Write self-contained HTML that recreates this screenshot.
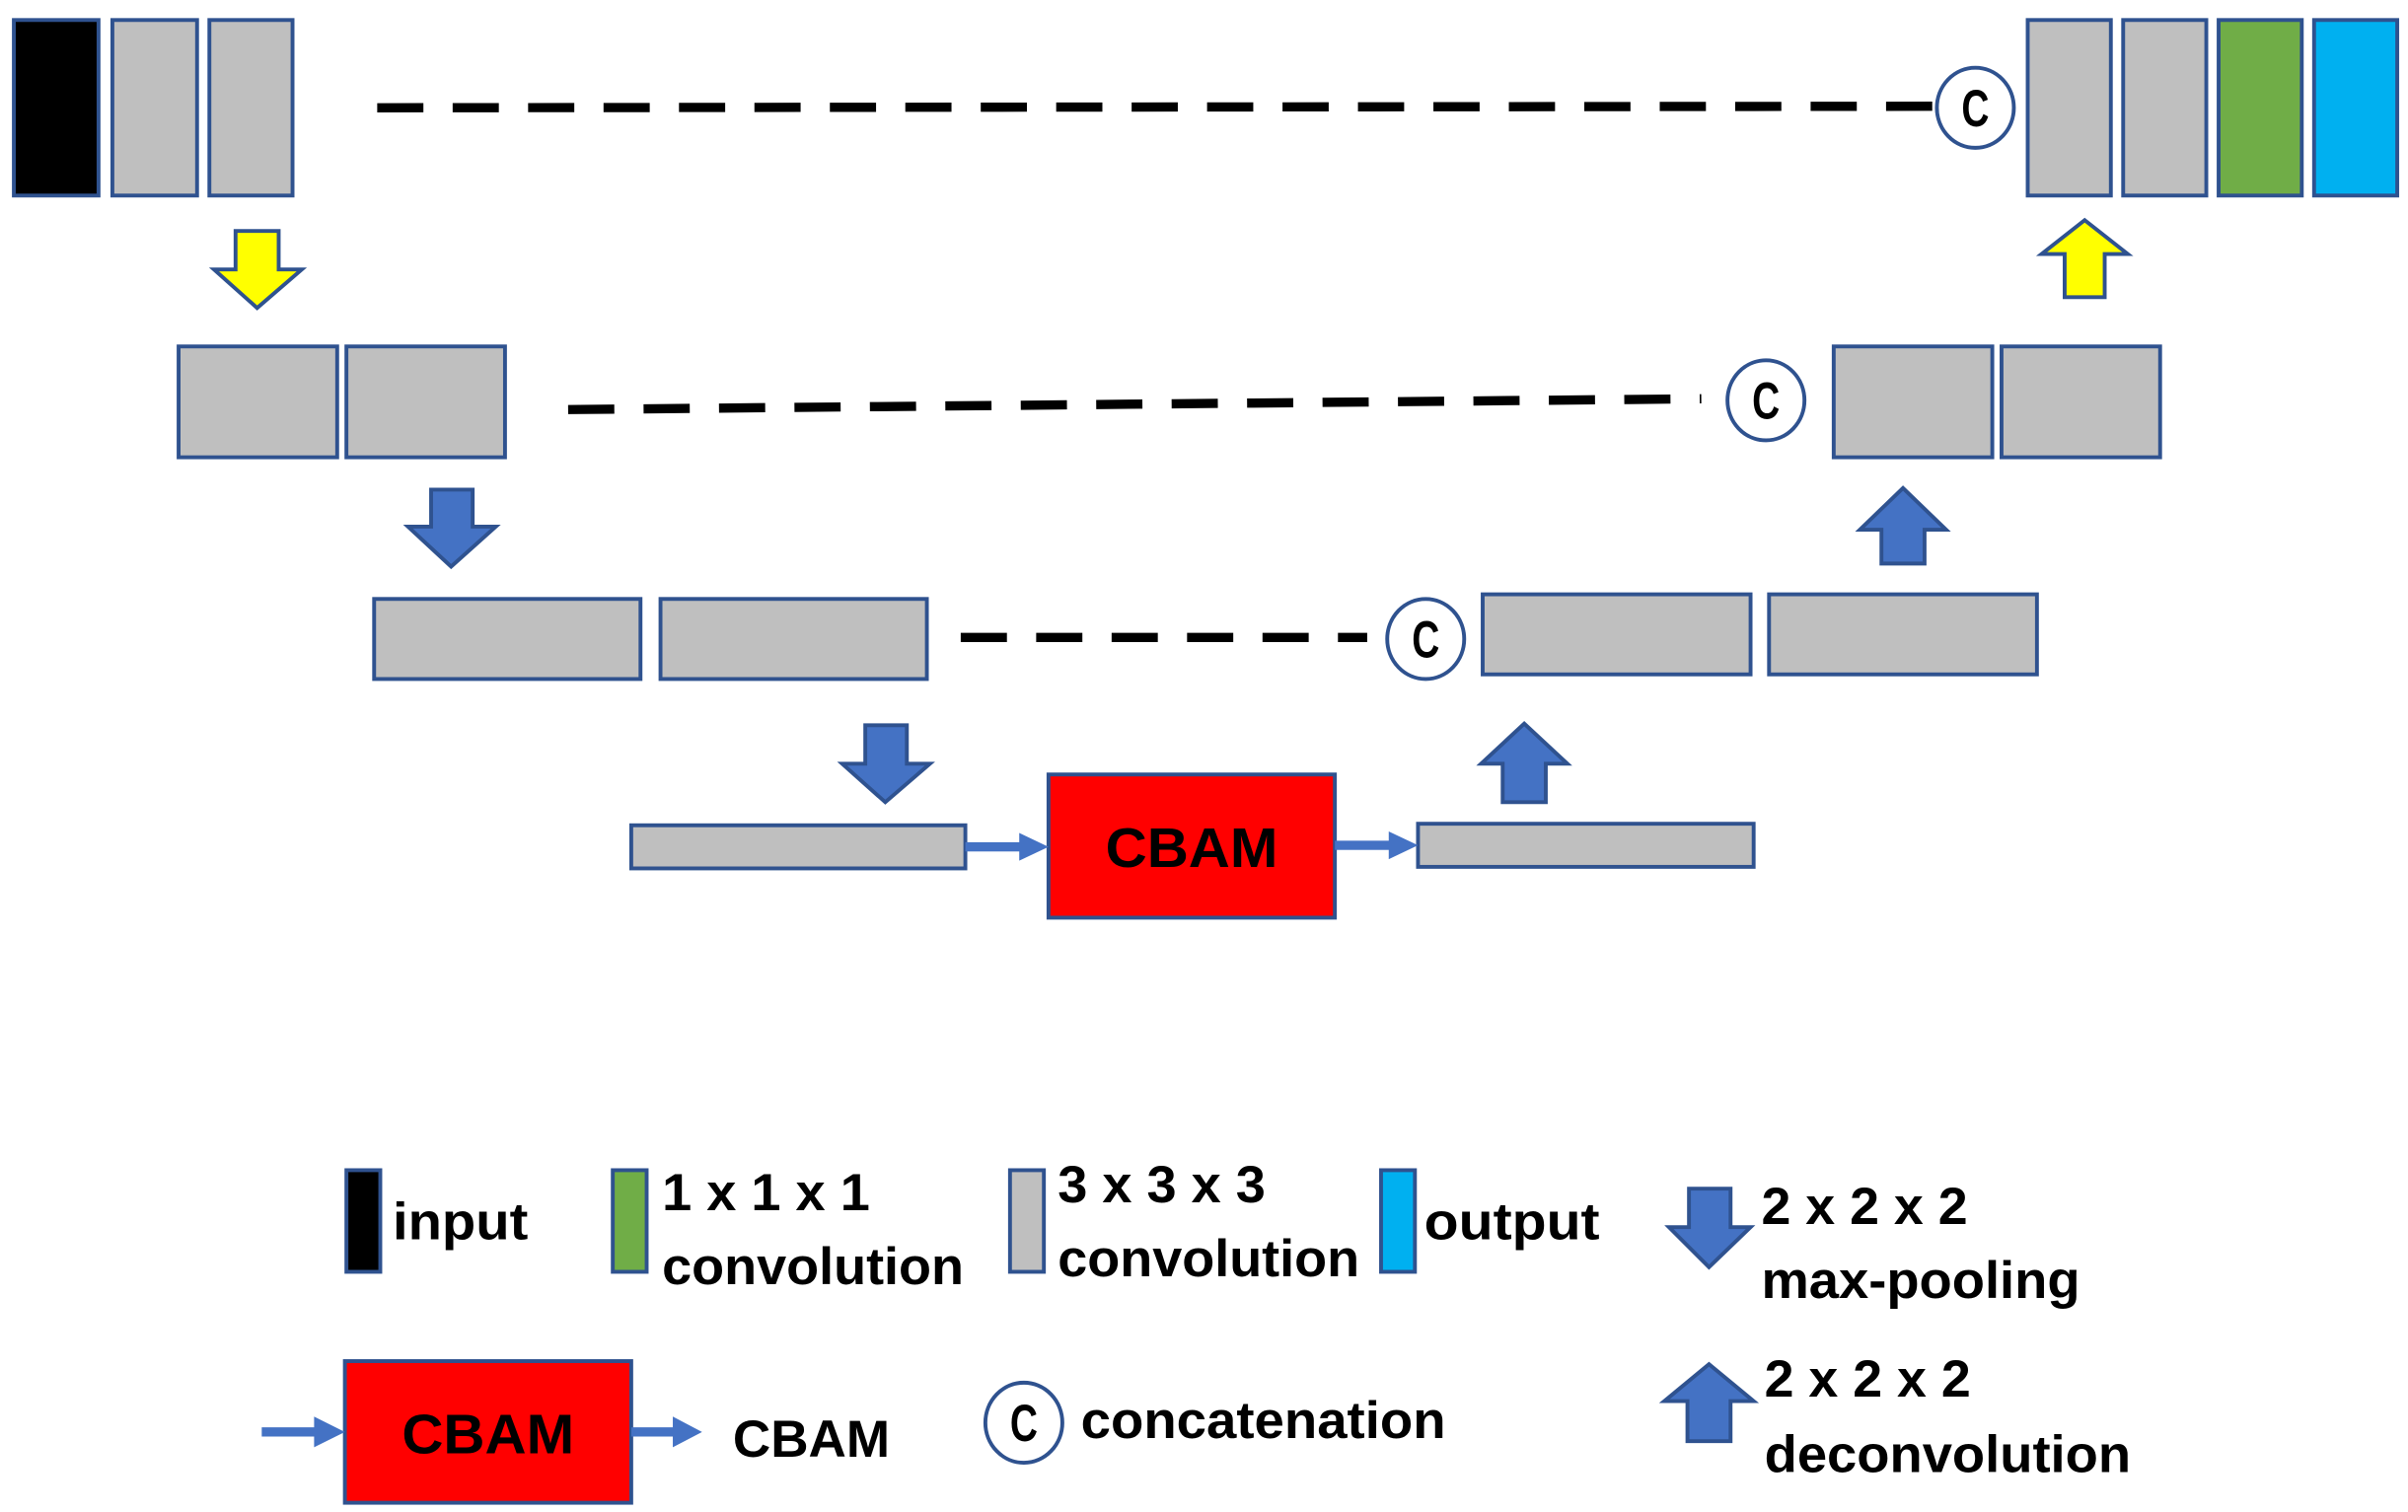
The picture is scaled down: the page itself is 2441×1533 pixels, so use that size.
<!DOCTYPE html>
<html><head><meta charset="utf-8"><style>html,body{margin:0;padding:0;background:#fff;}svg{display:block}</style></head>
<body>
<svg width="2441" height="1533" viewBox="0 0 1564 982" preserveAspectRatio="none" xmlns="http://www.w3.org/2000/svg">
<g stroke="#2F528F" stroke-width="2.5">
<rect x="9" y="13" width="55" height="114" fill="#000"/>
<rect x="73" y="13" width="55" height="114" fill="#BFBFBF"/>
<rect x="136" y="13" width="54" height="114" fill="#BFBFBF"/>
<rect x="1317" y="13" width="54" height="114" fill="#BFBFBF"/>
<rect x="1379" y="13" width="54" height="114" fill="#BFBFBF"/>
<rect x="1441" y="13" width="54" height="114" fill="#70AD47"/>
<rect x="1503" y="13" width="54" height="114" fill="#00B0F0"/>
<rect x="116" y="225" width="103" height="72" fill="#BFBFBF"/>
<rect x="225" y="225" width="103" height="72" fill="#BFBFBF"/>
<rect x="1191" y="225" width="103" height="72" fill="#BFBFBF"/>
<rect x="1300" y="225" width="103" height="72" fill="#BFBFBF"/>
<rect x="243" y="389" width="173" height="52" fill="#BFBFBF"/>
<rect x="429" y="389" width="173" height="52" fill="#BFBFBF"/>
<rect x="963" y="386" width="174" height="52" fill="#BFBFBF"/>
<rect x="1149" y="386" width="174" height="52" fill="#BFBFBF"/>
<rect x="410" y="536" width="217" height="28" fill="#BFBFBF"/>
<rect x="921" y="535" width="218" height="28" fill="#BFBFBF"/>
<rect x="681" y="503" width="186" height="93" fill="#FF0000"/>
<polygon points="153,150 181,150 181,175 196,175 167,200 139,175 153,175" fill="#FFFF00"/>
<polygon points="1341,193 1367,193 1367,165 1382,165 1354,143 1326,165 1341,165" fill="#FFFF00"/>
<polygon points="280,318 307,318 307,342 322,342 293,368 265,342 280,342" fill="#4472C4"/>
<polygon points="562,471 589,471 589,496 604,496 575,521 547,496 562,496" fill="#4472C4"/>
<polygon points="1222,366 1250,366 1250,344 1264,344 1236,317 1208,344 1222,344" fill="#4472C4"/>
<polygon points="976,521 1004,521 1004,496 1018,496 990,470 962,496 976,496" fill="#4472C4"/>
<ellipse cx="1283" cy="70" rx="25" ry="26" fill="#fff"/>
<ellipse cx="1147" cy="260" rx="25" ry="26" fill="#fff"/>
<ellipse cx="926" cy="415" rx="25" ry="26" fill="#fff"/>
<rect x="225" y="760" width="22" height="66" fill="#000"/>
<rect x="398" y="760" width="22" height="66" fill="#70AD47"/>
<rect x="656" y="760" width="22" height="66" fill="#BFBFBF"/>
<rect x="897" y="760" width="22" height="66" fill="#00B0F0"/>
<rect x="224" y="884" width="186" height="92" fill="#FF0000"/>
<ellipse cx="665" cy="924" rx="25" ry="26" fill="#fff"/>
<polygon points="1097,772 1124,772 1124,797 1137,797 1110,823 1084,797 1097,797" fill="#4472C4"/>
<polygon points="1096,936 1124,936 1124,910 1139,910 1110,886 1081,910 1096,910" fill="#4472C4"/>
</g>
<g fill="#4472C4">
<rect x="627" y="547" width="40" height="6"/><polygon points="662,541 681,550 662,559"/>
<rect x="867" y="546" width="38" height="6"/><polygon points="902,540 921,549 902,558"/>
<rect x="170" y="927" width="38" height="6"/><polygon points="204,920 224,930 204,940"/>
<rect x="410" y="927" width="30" height="6"/><polygon points="437,920 456,930 437,940"/>
</g>
<g stroke="#000" stroke-width="6" stroke-dasharray="30,19" fill="none">
<line x1="245" y1="70" x2="1258" y2="69"/>
<line x1="369" y1="266" x2="1105" y2="259"/>
<line x1="624" y1="414" x2="888" y2="414"/>
</g>
<g font-family="'Liberation Sans', sans-serif" font-weight="bold" fill="#000">
<text x="1283" y="82" font-size="34" text-anchor="middle" textLength="18" lengthAdjust="spacingAndGlyphs">C</text>
<text x="1147" y="272" font-size="34" text-anchor="middle" textLength="18" lengthAdjust="spacingAndGlyphs">C</text>
<text x="926" y="427" font-size="34" text-anchor="middle" textLength="18" lengthAdjust="spacingAndGlyphs">C</text>
<text x="665" y="936" font-size="34" text-anchor="middle" textLength="18" lengthAdjust="spacingAndGlyphs">C</text>
<text x="774" y="563" font-size="36" text-anchor="middle" textLength="112" lengthAdjust="spacingAndGlyphs">CBAM</text>
<text x="317" y="944" font-size="36" text-anchor="middle" textLength="112" lengthAdjust="spacingAndGlyphs">CBAM</text>
<g font-size="34">
<text x="255" y="805" textLength="88" lengthAdjust="spacingAndGlyphs">input</text>
<text x="430" y="786" textLength="135" lengthAdjust="spacingAndGlyphs">1 x 1 x 1</text>
<text x="430" y="834" textLength="196" lengthAdjust="spacingAndGlyphs">convolution</text>
<text x="687" y="781" textLength="135" lengthAdjust="spacingAndGlyphs">3 x 3 x 3</text>
<text x="687" y="829" textLength="196" lengthAdjust="spacingAndGlyphs">convolution</text>
<text x="925" y="805" textLength="114" lengthAdjust="spacingAndGlyphs">output</text>
<text x="1144" y="795" textLength="134" lengthAdjust="spacingAndGlyphs">2 x 2 x 2</text>
<text x="1144" y="843" textLength="207" lengthAdjust="spacingAndGlyphs">max-pooling</text>
<text x="476" y="946" textLength="102" lengthAdjust="spacingAndGlyphs">CBAM</text>
<text x="702" y="934" textLength="237" lengthAdjust="spacingAndGlyphs">concatenation</text>
<text x="1146" y="907" textLength="134" lengthAdjust="spacingAndGlyphs">2 x 2 x 2</text>
<text x="1146" y="956" textLength="238" lengthAdjust="spacingAndGlyphs">deconvolution</text>
</g>
</g>
</svg>
</body></html>
